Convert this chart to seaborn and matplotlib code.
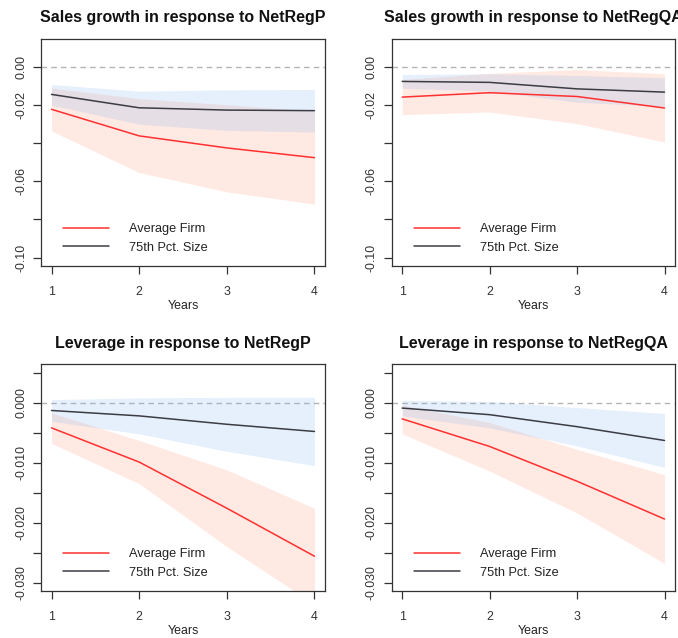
import matplotlib
matplotlib.use("Agg")
import matplotlib.pyplot as plt
import seaborn as sns
import pandas as pd
from matplotlib.ticker import FixedLocator, FixedFormatter

# Horizon (years after the shock)
years = [1, 2, 3, 4]

# Sales growth response to NetRegP
sg_p_avg = [-0.0224, -0.0363, -0.0426, -0.0477]
sg_p_avg_lo = [-0.0337, -0.0555, -0.0656, -0.0720]
sg_p_avg_hi = [-0.0113, -0.0168, -0.0200, -0.0234]
sg_p_big = [-0.0146, -0.0216, -0.0228, -0.0231]
sg_p_big_lo = [-0.0202, -0.0302, -0.0334, -0.0343]
sg_p_big_hi = [-0.0094, -0.0129, -0.0122, -0.0120]

# Sales growth response to NetRegQA
sg_qa_avg = [-0.0160, -0.0137, -0.0157, -0.0217]
sg_qa_avg_lo = [-0.0252, -0.0238, -0.0299, -0.0395]
sg_qa_avg_hi = [-0.0068, -0.0036, -0.0016, -0.0038]
sg_qa_big = [-0.0078, -0.0083, -0.0117, -0.0134]
sg_qa_big_lo = [-0.0114, -0.0128, -0.0187, -0.0209]
sg_qa_big_hi = [-0.0042, -0.0038, -0.0047, -0.0059]

# Leverage response to NetRegP
lev_p_avg = [-0.0042, -0.0099, -0.0176, -0.0256]
lev_p_avg_lo = [-0.0068, -0.0135, -0.0240, -0.0336]
lev_p_avg_hi = [-0.0017, -0.0063, -0.0112, -0.0176]
lev_p_big = [-0.0013, -0.0022, -0.0036, -0.0048]
lev_p_big_lo = [-0.0031, -0.0052, -0.0081, -0.0105]
lev_p_big_hi = [0.0005, 0.0008, 0.0009, 0.0009]

# Leverage response to NetRegQA
lev_qa_avg = [-0.0027, -0.0073, -0.0131, -0.0194]
lev_qa_avg_lo = [-0.0052, -0.0114, -0.0184, -0.0268]
lev_qa_avg_hi = [-0.0004, -0.0033, -0.0078, -0.0120]
lev_qa_big = [-0.0009, -0.0020, -0.0040, -0.0063]
lev_qa_big_lo = [-0.0022, -0.0042, -0.0072, -0.0108]
lev_qa_big_hi = [0.0004, 0.0002, -0.0008, -0.0018]

titles = ["Sales growth in response to NetRegP",
          "Sales growth in response to NetRegQA",
          "Leverage in response to NetRegP",
          "Leverage in response to NetRegQA"]
series_names = ["Average Firm", "75th Pct. Size"]

sales_ticks = [0.00, -0.02, -0.04, -0.06, -0.08, -0.10]
sales_labels = ["0.00", "-0.02", "", "-0.06", "", "-0.10"]
lev_ticks = [0.005, 0.000, -0.005, -0.010, -0.015, -0.020, -0.025, -0.030]
lev_labels = ["", "0.000", "", "-0.010", "", "-0.020", "", "-0.030"]

panels = [
    (sg_p_avg, sg_p_avg_lo, sg_p_avg_hi, sg_p_big, sg_p_big_lo, sg_p_big_hi),
    (sg_qa_avg, sg_qa_avg_lo, sg_qa_avg_hi, sg_qa_big, sg_qa_big_lo, sg_qa_big_hi),
    (lev_p_avg, lev_p_avg_lo, lev_p_avg_hi, lev_p_big, lev_p_big_lo, lev_p_big_hi),
    (lev_qa_avg, lev_qa_avg_lo, lev_qa_avg_hi, lev_qa_big, lev_qa_big_lo, lev_qa_big_hi),
]

sns.set_style("ticks")
plt.rcParams["font.family"] = ["Liberation Sans", "DejaVu Sans"]
plt.rcParams["text.color"] = "#222222"
plt.rcParams["axes.labelcolor"] = "#222222"
plt.rcParams["xtick.color"] = "#333333"
plt.rcParams["ytick.color"] = "#333333"

RED = "#ff3030"
DARK = "#3c3c44"
RED_FILL = (1.0, 110 / 255, 70 / 255, 0.15)
BLUE_FILL = (130 / 255, 180 / 255, 240 / 255, 0.20)

fig = plt.figure(figsize=(6.78, 6.38), dpi=100)
W, H = 678, 638
boxes = [(41, 39, 325, 266), (391.7, 39, 675, 266),
         (41, 364.3, 325, 591), (391.7, 364.3, 675, 591)]

for i, (box, vals) in enumerate(zip(boxes, panels)):
    x0, y0, x1, y1 = box
    ax = fig.add_axes([x0 / W, 1 - y1 / H, (x1 - x0) / W, (y1 - y0) / H])
    avg, avg_lo, avg_hi, big, big_lo, big_hi = vals

    ax.axhline(0, color="#b4b4b4", lw=1.0, ls=(0, (4, 3)), zorder=1)
    ax.fill_between(years, avg_lo, avg_hi, color=RED_FILL, lw=0, zorder=2)
    ax.fill_between(years, big_lo, big_hi, color=BLUE_FILL, lw=0, zorder=3)

    df = pd.DataFrame({
        "Years": years * 2,
        "value": list(avg) + list(big),
        "series": [series_names[0]] * 4 + [series_names[1]] * 4,
    })
    sns.lineplot(data=df, x="Years", y="value", hue="series",
                 palette={series_names[0]: RED, series_names[1]: DARK},
                 lw=1.1, ax=ax, zorder=4, legend=True)

    ax.set_xlim(0.88, 4.12)
    ax.set_xticks(years)
    ax.set_xticklabels([str(v) for v in years])
    if i < 2:
        ax.set_ylim(-0.1044, 0.0144)
        ax.yaxis.set_major_locator(FixedLocator(sales_ticks))
        ax.yaxis.set_major_formatter(FixedFormatter(sales_labels))
    else:
        ax.set_ylim(-0.0314, 0.0064)
        ax.yaxis.set_major_locator(FixedLocator(lev_ticks))
        ax.yaxis.set_major_formatter(FixedFormatter(lev_labels))

    ax.tick_params(axis="both", which="major", direction="out", length=6,
                   width=0.9, labelsize=8.9, bottom=True, left=True,
                   top=False, right=False)
    ax.tick_params(axis="x", pad=8.5)
    ax.tick_params(axis="y", pad=4)
    for lab in ax.get_yticklabels():
        lab.set_rotation(90)
        lab.set_va("center")
    ax.set_xlabel("Years", fontsize=8.9, labelpad=1.2)
    ax.set_ylabel("")
    ax.set_title(titles[i], fontsize=11.5, fontweight="bold", pad=12,
                 color="#111111")
    for sp in ax.spines.values():
        sp.set_visible(True)
        sp.set_color("#333333")
        sp.set_linewidth(0.9)

    handles, labels = ax.get_legend_handles_labels()
    ax.legend(handles, labels, loc="lower left",
              bbox_to_anchor=(0.077, 0.055), frameon=False,
              borderpad=0, borderaxespad=0, handlelength=3.6,
              handletextpad=1.6, labelspacing=0.5, fontsize=9.2)

fig.savefig("out.png", dpi=100)
